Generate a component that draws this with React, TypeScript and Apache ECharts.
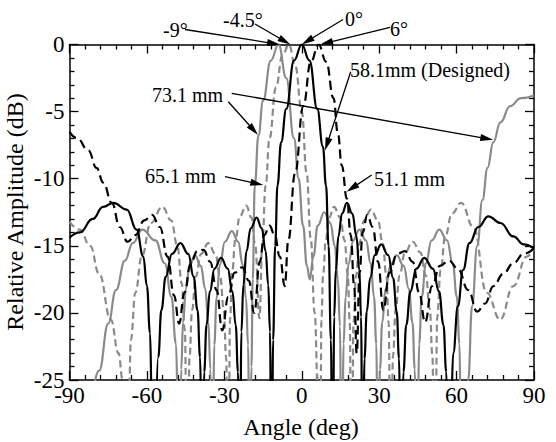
import React, { useEffect, useRef } from "react";
import * as echarts from "echarts";

// Axis ranges / ticks
const xTicks = [-90, -60, -30, 0, 30, 60, 90];
const yTicks = [-25, -20, -15, -10, -5, 0];

// [angle (deg), relative amplitude (dB)]

// 58.1 mm (Designed) – black solid
const pts58 = [
  [-90, -14.4], [-86, -14.0], [-81, -13.0], [-77, -12.1], [-73, -11.8], [-67.8, -12.3], [-64, -13.8], [-61.4, -15.8], [-60, -18], [-58.8, -21.5], [-57.5, -40],
  [-55.6, -23.3], [-54.4, -19.8], [-52.7, -17.3], [-50.3, -15.6], [-47, -14.8], [-44, -15.6], [-41.9, -17.3], [-40.4, -19.8], [-39.4, -23.3], [-38.5, -40],
  [-37.8, -24.4], [-36.9, -20.9], [-35.6, -18.4], [-33.8, -16.7], [-31.3, -15.9], [-28.7, -16.7], [-26.9, -18.4], [-25.6, -20.9], [-24.7, -24.4], [-24, -40],
  [-23.4, -21.4], [-22.6, -17.9], [-21.4, -15.4], [-19.8, -13.7], [-17.5, -12.9], [-15.5, -13.7], [-14, -15.4], [-13, -17.9], [-12.3, -21.4], [-11.7, -40],
  [-11.1, -22], [-10.3, -15], [-9.4, -10.5], [-8, -7.3], [-6, -4.8], [-3, -1.2], [0, 0], [3, -1.2], [6, -4.8], [8.2, -7.6], [9.4, -10.5], [10.4, -15], [11.3, -22], [12, -40],
  [12.55, -20.3], [13.2, -16.8], [14.2, -14.3], [15.6, -12.6], [17.5, -11.8], [19.6, -12.6], [21.2, -14.3], [22.3, -16.8], [23, -20.3], [23.6, -40],
  [24.3, -23.4], [25.2, -19.9], [26.5, -17.4], [28.3, -15.7], [30.8, -14.9], [33.5, -15.7], [35.4, -17.4], [36.8, -19.9], [37.7, -23.4], [38.5, -40],
  [39.4, -24.4], [40.5, -20.9], [42.1, -18.4], [44.4, -16.7], [47.5, -15.9], [50.8, -16.7], [53.2, -18.4], [54.9, -20.9], [56, -24.4], [57, -40],
  [58.7, -23], [60.5, -19.5], [62.5, -16.8], [65, -14.8], [68.4, -13.6], [72.3, -12.8], [77, -13.3], [82, -14.3], [86, -14.9], [90, -15.2],
];

// 51.1 mm – black dashed
const pts51 = [
  [-90, -6.5], [-87, -7.0], [-82.7, -7.9], [-79.5, -9.2], [-76.9, -10.3], [-73.6, -11.8], [-70.5, -13.6], [-67.5, -14.7], [-64.5, -14.2], [-61, -13.1],
  [-58, -12.7], [-55, -13.6], [-52, -15.8], [-49.5, -18.7], [-47.5, -20.8], [-45.5, -18.5], [-43, -16.3], [-40.5, -15.4], [-38, -15.3], [-35.5, -16.2],
  [-33, -18.3], [-30.8, -21.3], [-28.5, -18.8], [-26, -17.0], [-23, -16.6], [-20.5, -17.6], [-18.4, -20], [-16.3, -16.2], [-14.5, -14.2], [-12.5, -13.5],
  [-10.5, -14.2], [-8.5, -15.8], [-6.6, -18], [-5.2, -14.6], [-2.6, -9.6], [0.6, -4.6], [3.5, -1.3], [6.5, 0], [9.5, -1.3], [12.3, -4],
  [14, -6.6], [15.5, -9], [17.5, -11.5], [19, -14.2], [20.3, -18], [21.3, -23], [22.4, -17], [23.6, -14], [25.4, -12.7], [27.5, -13.6],
  [29.6, -16.2], [31.6, -19.8], [34, -17], [37, -15.6], [40, -15.4], [43, -16.2], [45.5, -18.5], [47.8, -20.7], [50.5, -18], [53.5, -16.5],
  [57, -16.1], [60.5, -16.7], [64.5, -18.3], [68, -19.9], [71, -19.3], [74.3, -18], [78, -17.1], [82, -16.3], [86, -15.6], [90, -15.2],
];

// 73.1 mm – grey solid
const pts73 = [
  [-90, -33], [-84, -29], [-78.5, -24.3], [-75, -20.8], [-72, -18.3], [-68.5, -16.1], [-65.5, -14.8], [-61.8, -13.8], [-56.7, -14.6], [-53.1, -16.3],
  [-50.5, -18.8], [-48.75, -22.3], [-47.3, -40], [-46.7, -24.2], [-46, -20.7], [-44.9, -18.2], [-43.5, -16.5], [-41.4, -15.7], [-39.1, -16.5], [-37.4, -18.2],
  [-36.2, -20.7], [-35.4, -24.2], [-34.7, -40], [-33.9, -22.4], [-33, -18.9], [-31.7, -16.4], [-29.8, -14.7], [-27.1, -13.9], [-24.6, -14.7], [-22.9, -16.4],
  [-21.6, -18.9], [-20.8, -22.4], [-20.1, -40], [-19.5, -24], [-19, -17.5], [-18.2, -10.5], [-16.8, -6.8], [-15, -4.2], [-12, -1.2], [-9, 0],
  [-6, -2.5], [-3, -7], [-1.2, -10], [0.5, -13.5], [2, -16.5], [3.1, -17.5], [4.5, -15.8], [6.2, -13.5], [8.7, -12.5], [11.1, -13.3],
  [12.8, -15], [14, -17.5], [14.8, -21], [15.5, -40], [16.2, -22.3], [17, -18.8], [18.2, -16.3], [19.9, -14.6], [22.3, -13.8], [24.9, -14.6],
  [26.7, -16.3], [28, -18.8], [28.9, -22.3], [29.6, -40], [30.3, -24.2], [31.2, -20.7], [32.5, -18.2], [34.3, -16.5], [36.8, -15.7], [39.5, -16.5],
  [41.5, -18.2], [42.9, -20.7], [43.8, -24.2], [44.6, -40], [45.5, -22.3], [46.5, -18.8], [48.1, -16.3], [50.3, -14.6], [53.3, -13.8], [56.3, -14.6],
  [58.5, -16.3], [60.1, -18.8], [61.1, -22.3], [62, -40], [63.3, -30], [64.5, -25], [66, -19.5], [68, -15], [70, -11.6], [72, -9.2],
  [74.2, -7.3], [77, -5.8], [80.7, -4.6], [85, -4], [90, -3.8],
];

// 65.1 mm – grey dashed
const pts65 = [
  [-90, -13.2], [-86, -13.8], [-82, -15], [-78.5, -17.1], [-74, -20.5], [-71, -23], [-69.4, -25], [-67.8, -40], [-66.2, -22], [-64.5, -18.5],
  [-62, -15.8], [-58.5, -13.3], [-54, -12.1], [-50.6, -13.1], [-48.2, -15], [-46.5, -17.8], [-45.3, -21.3], [-44.3, -40], [-43.5, -23.3], [-42.5, -19.8],
  [-41.1, -17.3], [-39, -15.6], [-36.2, -14.8], [-33.5, -15.6], [-31.6, -17.3], [-30.2, -19.8], [-29.3, -23.3], [-28.5, -40], [-27.8, -20.5], [-27, -17],
  [-25.7, -14.5], [-24, -12.8], [-21.5, -12], [-19.5, -12.9], [-18, -15], [-16.4, -20.4], [-15.3, -15], [-14, -10.5], [-12.5, -7], [-10, -3.2],
  [-7.5, -0.8], [-5, 0], [-2.5, -1.6], [0, -5], [1.9, -9.6], [3.5, -14.5], [5, -20], [6.3, -26], [7.1, -40], [7.6, -20.6],
  [8.3, -17.1], [9.3, -14.6], [10.6, -12.9], [12.5, -12.1], [14.9, -12.9], [16.6, -14.6], [17.8, -17.1], [18.6, -20.6], [19.3, -40], [20.05, -20.8],
  [21, -17.3], [22.3, -14.8], [24.2, -13.1], [26.8, -12.3], [29.5, -13.1], [31.4, -14.8], [32.8, -17.3], [33.7, -20.8], [34.5, -40], [35.35, -23.2],
  [36.4, -19.7], [37.9, -17.2], [40, -15.5], [43, -14.7], [46, -15.5], [48.1, -17.2], [49.6, -19.7], [50.65, -23.2], [51.5, -40], [52.5, -20.3],
  [53.8, -16.8], [55.6, -14.3], [58.2, -12.6], [61.8, -11.8], [66.5, -13.6], [71.7, -18.5], [76.9, -20.5], [82, -18], [87.2, -15.8], [90, -15.2],
];

const FONT = "Liberation Serif";
const GREY = "#8a8a8a";

// Annotations: label (pixel position), arrow start (pixel) and arrow tip (data coords)
const annotations = [
  { text: "-9°", tx: 163, ty: 30, from: [185, 29.5], tip: [-8.4, 0] },
  { text: "-4.5°", tx: 223, ty: 20, from: [255, 24], tip: [-4.4, 0] },
  { text: "0°", tx: 345, ty: 19, from: [343, 19.5], tip: [0, 0] },
  { text: "6°", tx: 390, ty: 28.5, from: [390, 27.3], tip: [7.1, 0] },
  { text: "58.1mm (Designed)", tx: 350, ty: 70, from: [350.7, 71.7], tip: [9.0, -7.9] },
  { text: "73.1 mm", tx: 152, ty: 95, from: [231.7, 93.3], tip: [74.2, -7.1] },
  { text: "", tx: 0, ty: 0, from: [228.3, 101.7], tip: [-16.95, -6.74] },
  { text: "65.1 mm", tx: 145, ty: 175.5, from: [225, 176.7], tip: [-14.9, -10.47] },
  { text: "51.1 mm", tx: 374, ty: 179, from: [371.7, 175], tip: [17.4, -10.97] },
];

export default function App() {
  const ref = useRef<HTMLDivElement>(null);

  useEffect(() => {
    if (!ref.current) return;
    const chart = echarts.init(ref.current, undefined, { renderer: "svg" });

    const axisLine = { show: true, onZero: false, lineStyle: { color: "#000", width: 1.5 } };
    const tick = { show: true, inside: true, length: 9, lineStyle: { color: "#000", width: 1.3 } };
    const minor = { show: true, splitNumber: 5, length: 5, lineStyle: { color: "#000", width: 1.3 } };
    const xCommon = {
      type: "value" as const,
      min: xTicks[0],
      max: xTicks[xTicks.length - 1],
      interval: 30,
      axisLine,
      splitLine: { show: false },
      axisTick: tick,
      minorTick: minor,
    };
    const yCommon = {
      type: "value" as const,
      min: yTicks[0],
      max: yTicks[yTicks.length - 1],
      interval: 5,
      axisLine,
      splitLine: { show: false },
      axisTick: tick,
      minorTick: minor,
    };

    const mk = (name: string, pts: number[][], color: string, type: any, width: number) => ({
      name,
      type: "line" as const,
      data: pts,
      xAxisIndex: 0,
      yAxisIndex: 0,
      showSymbol: false,
      smooth: 0.45,
      smoothMonotone: "x" as const,
      clip: true,
      lineStyle: { color, width, type },
      z: 3,
    });

    chart.setOption({
      animation: false,
      backgroundColor: "#fff",
      grid: { left: 69.5, right: 22, top: 44.5, bottom: 62, containLabel: false },
      xAxis: [
        {
          ...xCommon,
          position: "bottom",
          axisLabel: { show: true, color: "#000", fontFamily: FONT, fontSize: 23, margin: 4 },
        },
        { ...xCommon, position: "top", axisLabel: { show: false } },
      ],
      yAxis: [
        {
          ...yCommon,
          position: "left",
          axisLabel: { show: true, color: "#000", fontFamily: FONT, fontSize: 23, margin: 5 },
        },
        { ...yCommon, position: "right", axisLabel: { show: false } },
      ],
      series: [
        mk("73.1 mm", pts73, GREY, "solid", 2.2),
        mk("65.1 mm", pts65, GREY, [7, 4], 2.2),
        mk("51.1 mm", pts51, "#000", [9, 5], 2.2),
        mk("58.1mm (Designed)", pts58, "#000", "solid", 2.2),
      ],
    });

    const graphics: any[] = [];
    const L = 13;
    const W = 7;
    annotations.forEach((an) => {
      const tipPx = chart.convertToPixel({ xAxisIndex: 0, yAxisIndex: 0 }, an.tip) as number[];
      const [sx, sy] = an.from;
      const [tx, ty] = tipPx;
      const dx = tx - sx;
      const dy = ty - sy;
      const len = Math.sqrt(dx * dx + dy * dy);
      const ux = dx / len;
      const uy = dy / len;
      const bx = tx - ux * L;
      const by = ty - uy * L;
      const nx = -uy;
      const ny = ux;
      graphics.push({
        type: "line",
        shape: { x1: sx, y1: sy, x2: bx + ux * 2, y2: by + uy * 2 },
        style: { stroke: "#000", lineWidth: 1.3 },
        z: 10,
      });
      graphics.push({
        type: "polygon",
        shape: {
          points: [
            [tx, ty],
            [bx + (nx * W) / 2, by + (ny * W) / 2],
            [bx - (nx * W) / 2, by - (ny * W) / 2],
          ],
        },
        style: { fill: "#000" },
        z: 10,
      });
      if (an.text) {
        graphics.push({
          type: "text",
          x: an.tx,
          y: an.ty,
          style: {
            text: an.text,
            fontFamily: FONT,
            fontSize: 20,
            fill: "#000",
            align: "left",
            verticalAlign: "middle",
          },
          z: 11,
        });
      }
    });

    graphics.push({
      type: "text",
      x: 301,
      y: 427,
      style: {
        text: "Angle (deg)",
        fontFamily: FONT,
        fontSize: 24,
        fill: "#000",
        align: "center",
        verticalAlign: "middle",
      },
    });
    graphics.push({
      type: "text",
      x: 15,
      y: 212,
      rotation: Math.PI / 2,
      style: {
        text: "Relative Amplitude (dB)",
        fontFamily: FONT,
        fontSize: 24,
        fill: "#000",
        align: "center",
        verticalAlign: "middle",
      },
    });

    chart.setOption({ graphic: graphics });

    return () => chart.dispose();
  }, []);

  return (
    <div
      ref={ref}
      style={{ position: "fixed", left: 0, top: 0, width: 556, height: 442, background: "#fff" }}
    />
  );
}
